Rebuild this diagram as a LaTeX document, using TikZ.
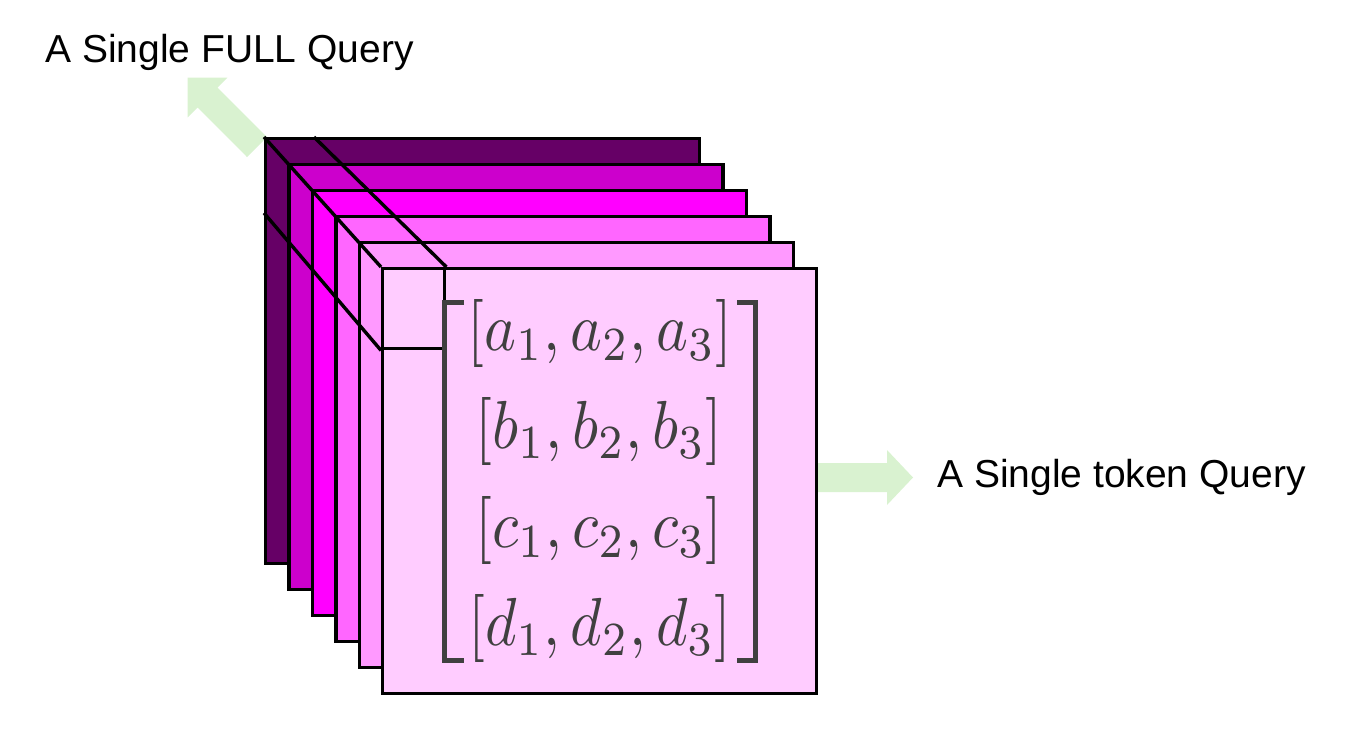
\documentclass[tikz,border=0pt]{standalone}
\usepackage{graphicx}
\usepackage{fontspec}
\setmainfont{Liberation Sans}
\newcommand{\bigrow}[1]{\scalebox{6.05}[6.8]{$#1$}}
\begin{document}
\begin{tikzpicture}[x=1pt,y=-1pt,
  layer/.style={draw=black,line width=3.4pt,rectangle,inner sep=0pt,minimum width=434pt,minimum height=425pt,anchor=north west},
  guide/.style={draw=black,line width=3.4pt},
  fatarrow/.style={fill=arrgreen,draw=none},
  lbl/.style={font=\fontsize{39}{46}\selectfont,anchor=base west,inner sep=0pt},
  row/.style={text=mgray,anchor=base,inner sep=0pt},
  brk/.style={draw=mgray,line width=5pt,miter limit=10}]
\definecolor{arrgreen}{HTML}{D9F2D0}
\definecolor{mgray}{HTML}{404040}
\definecolor{c1}{HTML}{660066}
\definecolor{c2}{HTML}{CC00CC}
\definecolor{c3}{HTML}{FF00FF}
\definecolor{c4}{HTML}{FF66FF}
\definecolor{c5}{HTML}{FF99FF}
\definecolor{c6}{HTML}{FFCCFF}
\useasboundingbox (0,0) rectangle (1355,740);
% arrows (behind)
\fill[fatarrow] (257,147) -- (267,137) -- (217.4,87.6) -- (227.3,77.7) -- (187.7,77.7) -- (187.7,117.3) -- (197.6,107.4) -- (247,157) -- cycle;
\fill[fatarrow] (817,463) -- (887,463) -- (887,450) -- (913,477.5) -- (887,505) -- (887,492) -- (817,492) -- cycle;
% layers
\node[layer,fill=c1] (L1) at (264,137) {};
\node[layer,fill=c2] (L2) at (287.4,163) {};
\node[layer,fill=c3] (L3) at (310.8,189) {};
\node[layer,fill=c4] (L4) at (334.2,215) {};
\node[layer,fill=c5] (L5) at (357.6,241) {};
\node[layer,fill=c6] (L6) at (381,267) {};
% token square on front layer
\node[draw=black,line width=3.4pt,rectangle,inner sep=0pt,minimum width=62pt,minimum height=80pt,anchor=north west] (sq) at (381,267) {};
\coordinate (bsqTR) at (314,137);
\coordinate (bsqBL) at (264,213);
\draw[guide] (L1.north west) -- (L6.north west);
\draw[guide] (bsqTR) -- (sq.north east);
\draw[guide] (bsqBL) -- (sq.south west);
% matrix
\node[row] (ra) at (600,350) {\bigrow{[a_1,a_2,a_3]}};
\node[row] (rb) at (599,448) {\bigrow{[b_1,b_2,b_3]}};
\node[row] (rc) at (599,547) {\bigrow{[c_1,c_2,c_3]}};
\node[row] (rd) at (600,645) {\bigrow{[d_1,d_2,d_3]}};
\draw[brk] (464,302.5) -- (444,302.5) -- (444,660.5) -- (464,660.5);
\draw[brk] (737,302.5) -- (755,302.5) -- (755,660.5) -- (737,660.5);
% labels
\node[lbl] (full) at (45,62) {A Single FULL Query};
\node[lbl] (tok) at (937,487) {A Single token Query};
\end{tikzpicture}
\end{document}
